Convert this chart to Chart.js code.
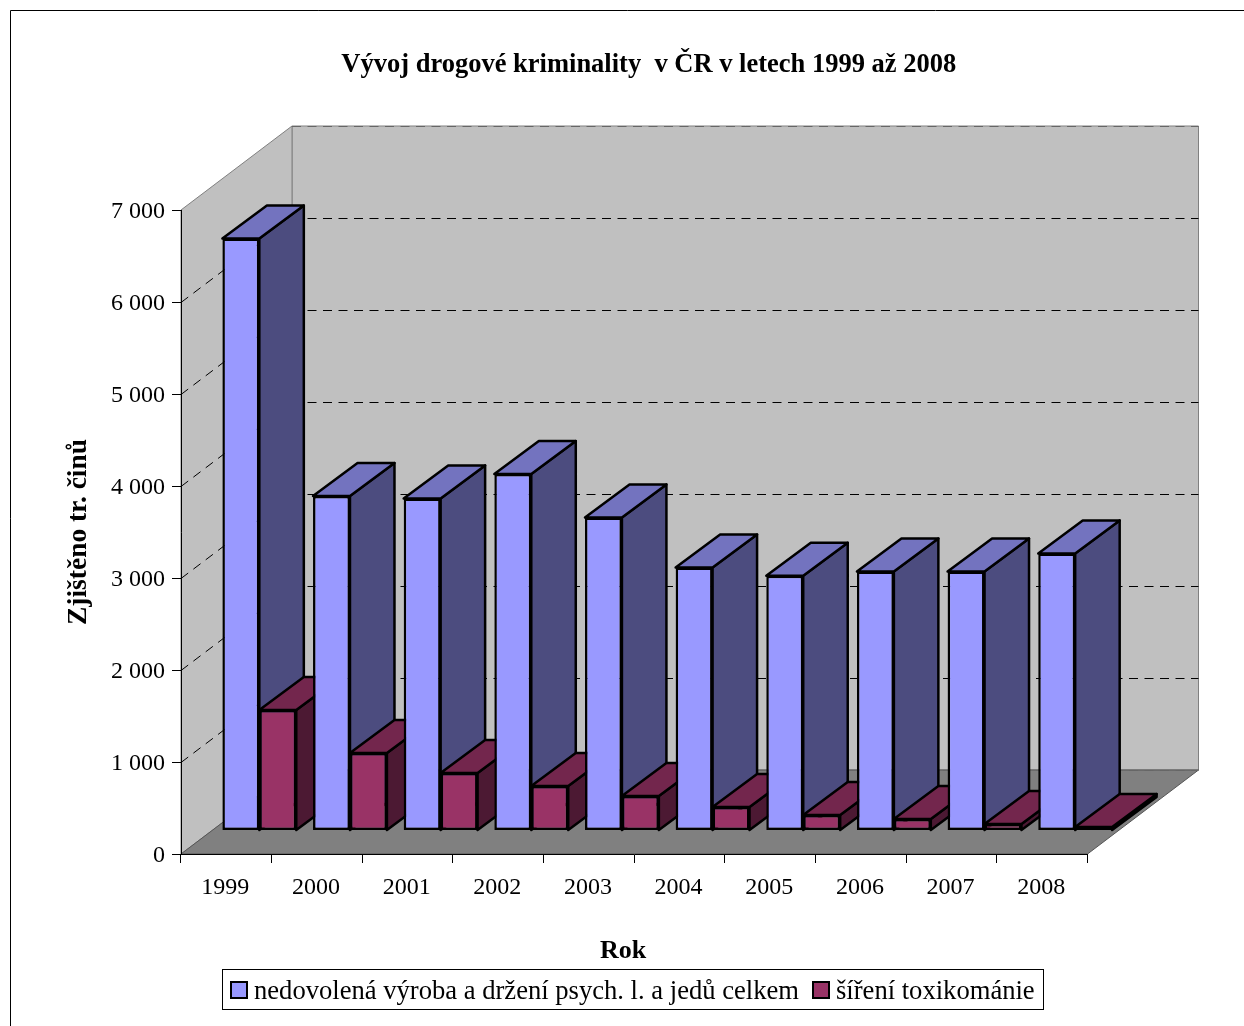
<!DOCTYPE html>
<html>
<head>
<meta charset="utf-8">
<style>
html, body { margin: 0; padding: 0; background: #fff; overflow: hidden; }
canvas { display: block; }
</style>
<script src="https://cdn.jsdelivr.net/npm/chart.js@4"></script>
</head>
<body>
<canvas id="chart" width="1244" height="1026"></canvas>
<script>
var years = ['1999', '2000', '2001', '2002', '2003', '2004', '2005', '2006', '2007', '2008'];
var vyroba = [6435, 3635, 3610, 3875, 3403, 2858, 2768, 2815, 2815, 3012];
var sireni = [1310, 842, 625, 483, 375, 255, 168, 125, 70, 38];
var yTicks = [0, 1000, 2000, 3000, 4000, 5000, 6000, 7000];
var seriesNames = ['nedovolená výroba a držení psych. l. a jedů celkem', 'šíření toxikománie'];

var SERIF = '"Liberation Serif", serif';
// depth of the walls, of the bar rows and of one bar, in px
var WALL_DX = 111, WALL_DY = 84;
var ROW_DX = 33, ROW_DY = 23.5;
var BAR_DX = 44.5, BAR_DY = 33;

function line(ctx, x1, y1, x2, y2) {
    ctx.beginPath();
    ctx.moveTo(x1, y1);
    ctx.lineTo(x2, y2);
    ctx.stroke();
}

function poly(ctx, pts, fill, stroke, width) {
    ctx.beginPath();
    ctx.moveTo(pts[0], pts[1]);
    for (var i = 2; i < pts.length; i += 2) ctx.lineTo(pts[i], pts[i + 1]);
    ctx.closePath();
    ctx.fillStyle = fill;
    ctx.fill();
    if (stroke) {
        ctx.strokeStyle = stroke;
        ctx.lineWidth = width;
        ctx.stroke();
    }
}

var box3d = {
    id: 'box3d',
    afterLayout: function(chart) {
        // the title sits right of the plot centre in the original
        chart.titleBlock.left += 105;
        chart.titleBlock.right += 105;
    },
    beforeDraw: function(chart) {
        var ctx = chart.ctx, a = chart.chartArea, y = chart.scales.y;
        ctx.save();
        ctx.fillStyle = '#fff';
        ctx.fillRect(0, 0, chart.width, chart.height);

        // outer frame runs off the right and bottom of the picture
        ctx.strokeStyle = '#000';
        ctx.lineWidth = 1;
        ctx.beginPath();
        ctx.moveTo(10.5, chart.height);
        ctx.lineTo(10.5, 10.5);
        ctx.lineTo(chart.width, 10.5);
        ctx.stroke();

        var bl = a.left + WALL_DX, br = a.right + WALL_DX;
        var top = a.top - WALL_DY, bot = a.bottom - WALL_DY;
        poly(ctx, [bl, top, br, top, br, bot, bl, bot], '#c0c0c0', '#808080', 1);
        poly(ctx, [a.left, a.top, bl, top, bl, bot, a.left, a.bottom], '#c0c0c0', '#808080', 1);
        poly(ctx, [a.left, a.bottom, bl, bot, br, bot, a.right, a.bottom], '#808080', '#555', 1);

        ctx.lineWidth = 1;
        ctx.setLineDash([9, 6.5]);
        yTicks.forEach(function(v) {
            var py = Math.round(y.getPixelForValue(v));
            var inner = v > 0 && v < 7000;
            ctx.strokeStyle = inner ? '#000' : '#666';
            if (inner) line(ctx, a.left, py + 0.5, bl, py - WALL_DY + 0.5);
            line(ctx, bl, py - WALL_DY + 0.5, br, py - WALL_DY + 0.5);
        });
        ctx.restore();
    },
    beforeDatasetsDraw: function(chart) {
        // painter's order: category by category, not dataset by dataset
        var ctx = chart.ctx;
        var tops = ['#7373bf', '#73264d'];
        var sides = ['#4c4c7f', '#4c1933'];
        ctx.save();
        ctx.translate(ROW_DX, -ROW_DY);
        ctx.lineJoin = 'round';
        years.forEach(function(year, i) {
            chart.data.datasets.forEach(function(ds, d) {
                var el = chart.getDatasetMeta(d).data[i];
                var l = el.x - el.width / 2, r = el.x + el.width / 2;
                var t = el.y, b = el.base;
                poly(ctx, [r, t, r + BAR_DX, t - BAR_DY, r + BAR_DX, b - BAR_DY, r, b], sides[d], '#000', 2.5);
                poly(ctx, [l, t, l + BAR_DX, t - BAR_DY, r + BAR_DX, t - BAR_DY, r, t], tops[d], '#000', 2.5);
                el.draw(ctx);
            });
        });
        ctx.restore();
        return false;
    },
    afterDraw: function(chart) {
        var ctx = chart.ctx;
        ctx.save();
        ctx.fillStyle = '#000';
        ctx.textBaseline = 'alphabetic';
        ctx.font = 'bold 26px ' + SERIF;
        ctx.textAlign = 'center';
        ctx.fillText('Rok', 623, 958);

        // legend
        ctx.strokeStyle = '#000';
        ctx.lineWidth = 1;
        ctx.strokeRect(222.5, 969.5, 821, 40);
        ctx.textAlign = 'left';
        ctx.font = '26.6px ' + SERIF;
        var xs = [231, 813];
        chart.data.datasets.forEach(function(ds, d) {
            ctx.fillStyle = ds.backgroundColor;
            ctx.fillRect(xs[d], 982, 16, 16);
            ctx.lineWidth = 2;
            ctx.strokeRect(xs[d], 982, 16, 16);
            ctx.fillStyle = '#000';
            ctx.fillText(seriesNames[d], xs[d] + 23, 999);
        });
        ctx.restore();
    }
};

new Chart(document.getElementById('chart').getContext('2d'), {
    type: 'bar',
    data: {
        labels: years,
        datasets: [
            { label: seriesNames[0], data: vyroba, backgroundColor: '#9999ff' },
            { label: seriesNames[1], data: sireni, backgroundColor: '#993366' }
        ]
    },
    plugins: [box3d],
    options: {
        responsive: false,
        animation: false,
        layout: { padding: { left: 0, right: 156.5, top: 0, bottom: 0 } },
        datasets: {
            bar: {
                categoryPercentage: 0.815,
                barPercentage: 1,
                borderColor: '#000',
                borderWidth: 2.5,
                borderSkipped: false
            }
        },
        plugins: {
            legend: { display: false },
            tooltip: { enabled: false },
            title: {
                display: true,
                text: 'Vývoj drogové kriminality  v ČR v letech 1999 až 2008',
                color: '#000',
                font: { family: SERIF, size: 26.5, weight: 'bold' },
                padding: { top: 49, bottom: 129.2 }
            }
        },
        scales: {
            x: {
                afterFit: function(scale) { scale.height = 172; },
                grid: { offset: true, drawOnChartArea: false, color: '#000', tickLength: 9 },
                border: { color: '#000' },
                ticks: { color: '#000', font: { family: SERIF, size: 24 }, maxRotation: 0, padding: 10.5, labelOffset: -1 }
            },
            y: {
                min: 0,
                max: 7000,
                afterFit: function(scale) { scale.width = 181; },
                afterBuildTicks: function(scale) {
                    scale.ticks = yTicks.map(function(v) { return { value: v }; });
                },
                grid: { drawOnChartArea: false, color: '#000', tickLength: 9 },
                border: { color: '#000' },
                title: {
                    display: true,
                    text: 'Zjištěno tr. činů',
                    color: '#000',
                    font: { family: SERIF, size: 27.5, weight: 'bold' },
                    padding: { top: 62.5, bottom: 0 }
                },
                ticks: {
                    color: '#000',
                    font: { family: SERIF, size: 24 },
                    padding: 7,
                    labelOffset: 1.5,
                    callback: function(v) {
                        return String(v).replace(/\B(?=(\d{3})+$)/g, ' ');
                    }
                }
            }
        }
    }
});
</script>
</body>
</html>
